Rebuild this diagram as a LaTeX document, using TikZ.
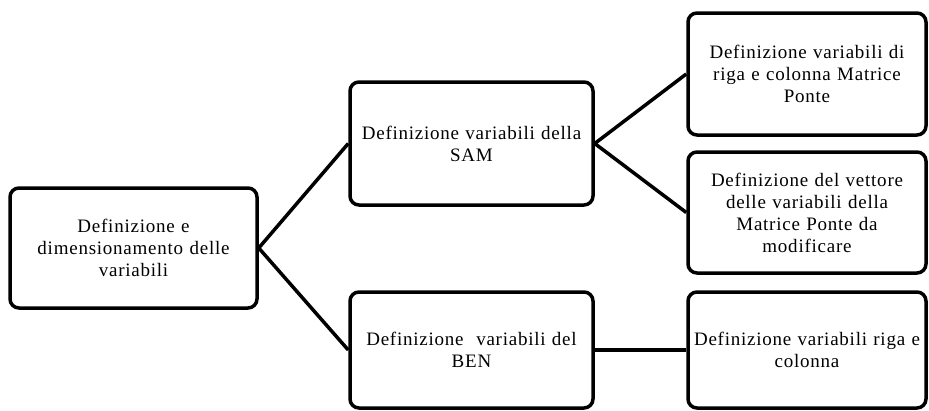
\documentclass[tikz,border=0pt]{standalone}
\usepackage{fontspec}
\setmainfont{Liberation Serif}
\newfontfamily\boxfont[LetterSpace=4]{Liberation Serif}
\begin{document}
\begin{tikzpicture}[x=1pt,y=-1pt,
  box/.style={draw=black,line width=3.5pt,rounded corners=9pt,align=center,
    font=\boxfont\fontsize{19}{22}\selectfont,inner sep=0pt},
  conn/.style={line width=3.5pt}]
\useasboundingbox (0,0) rectangle (929,410);
\newcommand{\mkbox}[6]{%
  \node[box,minimum width=#3-#1,minimum height=#4-#2,text width=#3-#1-4] (#5) at ({(#1+#3)/2},{(#2+#4)/2}) {#6};}
\mkbox{10}{188}{257}{308}{A}{Definizione e\\dimensionamento delle\\variabili}
\mkbox{350}{82}{593}{205}{B}{Definizione variabili della\\SAM}
\mkbox{350}{292}{593}{408}{C}{Definizione\ \ variabili del\\BEN}
\mkbox{688}{13}{926}{135}{D}{Definizione variabili di\\riga e colonna Matrice\\Ponte}
\mkbox{688}{152}{926}{273}{E}{Definizione del vettore\\delle variabili della\\Matrice Ponte da\\modificare}
\mkbox{688}{292}{926}{408}{F}{Definizione variabili riga e\\colonna}
\draw[conn] (A.east) -- (B.west);
\draw[conn] (A.east) -- (C.west);
\draw[conn] (B.east) -- (D.west);
\draw[conn] (B.east) -- (E.west);
\draw[conn] (C.east) -- (F.west);
\end{tikzpicture}
\end{document}
